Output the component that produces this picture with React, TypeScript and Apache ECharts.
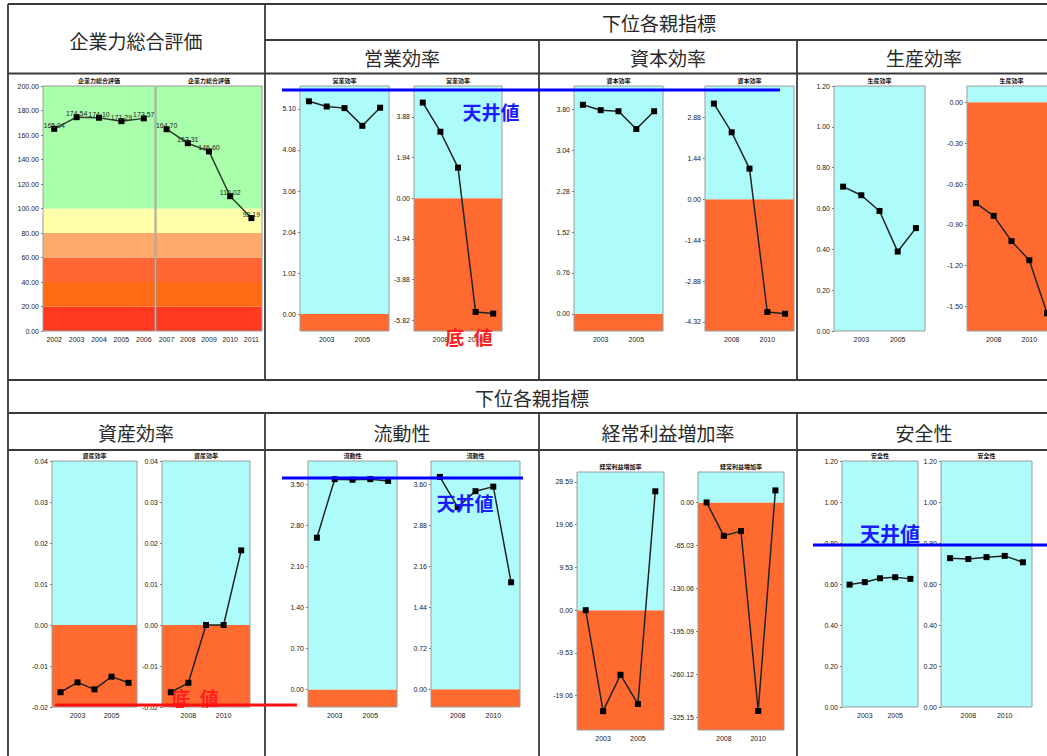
import React, { useEffect, useRef } from 'react';
import * as echarts from 'echarts';

// ---- categories ----
const yearsA = ['2002', '2003', '2004', '2005', '2006'];
const yearsB = ['2007', '2008', '2009', '2010', '2011'];

// ---- series values ----
const sogoA = [165.04, 174.54, 174.1, 171.29, 173.57];
const sogoB = [164.7, 153.31, 146.6, 110.02, 92.19];
const eigyoA = [5.29, 5.16, 5.12, 4.68, 5.13];
const eigyoB = [4.56, 3.17, 1.46, -5.42, -5.5];
const shihonA = [3.89, 3.79, 3.77, 3.44, 3.77];
const shihonB = [3.37, 2.36, 1.08, -3.97, -4.03];
const seisanA = [0.707, 0.665, 0.588, 0.389, 0.504];
const seisanB = [-0.741, -0.834, -1.02, -1.16, -1.55];
const shisanA = [-0.0164, -0.014, -0.0157, -0.0126, -0.0141];
const shisanB = [-0.0164, -0.0141, 0, 0, 0.0182];
const ryudoA = [2.59, 3.59, 3.58, 3.59, 3.56];
const ryudoB = [3.73, 3.2, 3.48, 3.56, 1.88];
const keijoA = [0, -22.5, -14.4, -20.9, 26.5];
const keijoB = [0, -50.5, -43.4, -315.8, 18.2];
const anzenA = [0.597, 0.609, 0.628, 0.633, 0.625];
const anzenB = [0.726, 0.722, 0.731, 0.737, 0.706];

// ---- tick labels ----
const eigyoTicksA = [0, 1.02, 2.04, 3.06, 4.08, 5.1];
const eigyoTicksB = [-5.82, -3.88, -1.94, 0, 1.94, 3.88];
const shihonTicksA = [0, 0.76, 1.52, 2.28, 3.04, 3.8];
const shihonTicksB = [-4.32, -2.88, -1.44, 0, 1.44, 2.88];
const seisanTicksA = [0, 0.2, 0.4, 0.6, 0.8, 1.0, 1.2];
const seisanTicksB = [-1.5, -1.2, -0.9, -0.6, -0.3, 0];
const shisanTicks = [-0.02, -0.01, 0, 0.01, 0.02, 0.03, 0.04];
const ryudoTicksA = [0, 0.7, 1.4, 2.1, 2.8, 3.5];
const ryudoTicksB = [0, 0.72, 1.44, 2.16, 2.88, 3.6];
const keijoTicksA = [-19.06, -9.53, 0, 9.53, 19.06, 28.59];
const keijoTicksB = [-325.15, -260.12, -195.09, -130.06, -65.03, 0];
const anzenTicks = [0, 0.2, 0.4, 0.6, 0.8, 1.0, 1.2];

// ---- header texts ----
const topHeaders = ['営業効率', '資本効率', '生産効率'];
const bottomHeaders = ['資産効率', '流動性', '経常利益増加率', '安全性'];

type Mini = {
  title: string; cats: string[]; data: number[]; min: number; max: number;
  ticks?: number[]; interval?: number; showY: boolean; allX: boolean; sogo?: boolean;
  x: number; y: number; w: number; h: number;
};

const minis: Mini[] = [
  { title: '企業力総合評価', cats: yearsA, data: sogoA, min: 0, max: 200, interval: 20, showY: true, allX: true, sogo: true, x: 43, y: 86, w: 112, h: 245 },
  { title: '企業力総合評価', cats: yearsB, data: sogoB, min: 0, max: 200, interval: 20, showY: false, allX: true, sogo: true, x: 156, y: 86, w: 106, h: 245 },
  { title: '営業効率', cats: yearsA, data: eigyoA, min: -0.42, max: 5.67, ticks: eigyoTicksA, showY: true, allX: false, x: 300, y: 86, w: 89, h: 245 },
  { title: '営業効率', cats: yearsB, data: eigyoB, min: -6.33, max: 5.35, ticks: eigyoTicksB, showY: true, allX: false, x: 414, y: 86, w: 88, h: 245 },
  { title: '資本効率', cats: yearsA, data: shihonA, min: -0.32, max: 4.24, ticks: shihonTicksA, showY: true, allX: false, x: 574, y: 86, w: 89, h: 245 },
  { title: '資本効率', cats: yearsB, data: shihonB, min: -4.64, max: 3.99, ticks: shihonTicksB, showY: true, allX: false, x: 705, y: 86, w: 89, h: 245 },
  { title: '生産効率', cats: yearsA, data: seisanA, min: 0, max: 1.2, ticks: seisanTicksA, showY: true, allX: false, x: 834, y: 86, w: 91, h: 245 },
  { title: '生産効率', cats: yearsB, data: seisanB, min: -1.68, max: 0.12, ticks: seisanTicksB, showY: true, allX: false, x: 967, y: 86, w: 89, h: 245 },
  { title: '資産効率', cats: yearsA, data: shisanA, min: -0.02, max: 0.04, ticks: shisanTicks, showY: true, allX: false, x: 52, y: 461, w: 85, h: 246 },
  { title: '資産効率', cats: yearsB, data: shisanB, min: -0.02, max: 0.04, ticks: shisanTicks, showY: true, allX: false, x: 162, y: 461, w: 88, h: 246 },
  { title: '流動性', cats: yearsA, data: ryudoA, min: -0.3, max: 3.9, ticks: ryudoTicksA, showY: true, allX: false, x: 308, y: 461, w: 89, h: 246 },
  { title: '流動性', cats: yearsB, data: ryudoB, min: -0.31, max: 4.01, ticks: ryudoTicksB, showY: true, allX: false, x: 431, y: 461, w: 89, h: 246 },
  { title: '経常利益増加率', cats: yearsA, data: keijoA, min: -26.7, max: 30.8, ticks: keijoTicksA, showY: true, allX: false, x: 577, y: 472, w: 87, h: 258 },
  { title: '経常利益増加率', cats: yearsB, data: keijoB, min: -344.6, max: 46.1, ticks: keijoTicksB, showY: true, allX: false, x: 698, y: 472, w: 86, h: 258 },
  { title: '安全性', cats: yearsA, data: anzenA, min: 0, max: 1.2, ticks: anzenTicks, showY: true, allX: false, x: 842, y: 461, w: 76, h: 246 },
  { title: '安全性', cats: yearsB, data: anzenB, min: 0, max: 1.2, ticks: anzenTicks, showY: true, allX: false, x: 941, y: 461, w: 91, h: 246 },
];

const CYAN = '#aefcfa';
const ORANGE = '#fe6a30';
const sogoBands: [number, number, string][] = [
  [0, 20, '#ff3a1e'], [20, 40, '#ff6a14'], [40, 60, '#ff6633'],
  [60, 80, '#ffaa6b'], [80, 100, '#ffffaa'], [100, 200, '#aaffaa'],
];

const CJK = '"Noto Sans CJK JP", sans-serif';
const LAT = '"Liberation Sans", Arial, sans-serif';

export default function App() {
  const ref = useRef<HTMLDivElement>(null);
  useEffect(() => {
    if (!ref.current) return;
    const chart = echarts.init(ref.current, undefined, { renderer: 'svg' });

    const grid = minis.map((m) => ({
      left: m.x, top: m.y, width: m.w, height: m.h, show: true,
      borderColor: '#9a9a9a', borderWidth: 1, backgroundColor: 'transparent',
      z: 3, outerBoundsMode: 'none', containLabel: false,
    }));
    const xAxis = minis.map((m, i) => ({
      type: 'category', gridIndex: i, data: m.cats, boundaryGap: true,
      axisLine: { show: false }, axisTick: { show: false },
      axisLabel: {
        fontSize: 7, color: '#222', margin: 5, fontFamily: LAT,
        interval: m.allX ? 0 : (idx: number) => idx % 2 === 1,
      },
    }));
    const yAxis = minis.map((m, i) => {
      const ax: any = {
        type: 'value', gridIndex: i, min: m.min, max: m.max,
        splitLine: { show: false }, axisLine: { show: false },
        axisTick: { show: m.showY, length: 2, lineStyle: { color: '#777' } },
        axisLabel: {
          show: m.showY, fontSize: 7, color: '#222', margin: 4, fontFamily: LAT,
          formatter: (v: number) => v.toFixed(2),
        },
      };
      if (m.interval) ax.interval = m.interval;
      if (m.ticks) {
        ax.axisLabel.customValues = m.ticks;
        ax.axisTick.customValues = m.ticks;
      }
      return ax;
    });
    const series = minis.map((m, i) => {
      const areas = m.sogo
        ? sogoBands.map(([a, b, c]) => [{ yAxis: a, itemStyle: { color: c } }, { yAxis: b }])
        : [
            [{ yAxis: m.min, itemStyle: { color: ORANGE } }, { yAxis: 0 }],
            [{ yAxis: 0, itemStyle: { color: CYAN } }, { yAxis: m.max }],
          ];
      return {
        type: 'line', xAxisIndex: i, yAxisIndex: i, data: m.data, z: 2,
        symbol: 'rect', symbolSize: 6,
        itemStyle: { color: '#000' },
        lineStyle: { color: m.sogo ? '#2d3b2d' : '#222', width: 1.5 },
        label: m.sogo
          ? { show: true, position: 'top', distance: -3, fontSize: 7, color: '#222', fontFamily: LAT, formatter: (p: any) => p.value.toFixed(2) }
          : { show: false },
        markArea: { silent: true, data: areas },
      };
    });

    const L = (x1: number, y1: number, x2: number, y2: number) => ({
      type: 'line', z: 50, shape: { x1, y1, x2, y2 }, style: { stroke: '#3a3a3a', lineWidth: 1.8 },
    });
    const T = (text: string, x: number, y: number, size: number, fill = '#2a2a2a', weight: any = 'normal') => ({
      type: 'text', z: 60, x, y,
      style: { text, fontSize: size, fontFamily: CJK, fontWeight: weight, fill, textAlign: 'center', textVerticalAlign: 'middle' },
    });
    const Bl = (x1: number, y: number, x2: number, color: string) => ({
      type: 'line', z: 80, shape: { x1, y1: y, x2, y2: y }, style: { stroke: color, lineWidth: 3.2 },
    });

    const graphic: any[] = [
      // table
      L(8, 4, 1060, 4), L(8, 4, 8, 760),
      L(265, 4, 265, 380), L(539, 40, 539, 380), L(797, 40, 797, 380),
      L(265, 40, 1060, 40), L(8, 73.5, 1060, 73.5), L(8, 380, 1060, 380),
      L(8, 413, 1060, 413), L(8, 450, 1060, 450),
      L(265, 413, 265, 760), L(539, 413, 539, 760), L(797, 413, 797, 760),
      // headers
      T('企業力総合評価', 136, 40, 19),
      T('下位各親指標', 659, 22, 19),
      T(topHeaders[0], 402, 57, 19), T(topHeaders[1], 668, 57, 19), T(topHeaders[2], 924, 57, 19),
      T('下位各親指標', 532, 397, 19),
      T(bottomHeaders[0], 136, 432, 19), T(bottomHeaders[1], 402, 432, 19),
      T(bottomHeaders[2], 668, 432, 19), T(bottomHeaders[3], 924, 432, 19),
      // mini titles
      ...minis.map((m) => T(m.title, m.x + m.w / 2, m.y - 5.5, 6, '#111', 'bold')),
      // annotations
      Bl(282, 90, 780, '#0000ff'),
      T('天井値', 491, 111, 19, '#1c1cff', 'bold'),
      T('底\u2002値', 469, 336, 19, '#ff2020', 'bold'),
      Bl(55, 705, 297, '#ff1010'),
      T('底\u2002値', 195, 697, 19, '#ff2020', 'bold'),
      Bl(282, 478, 523, '#0000ff'),
      T('天井値', 465, 502, 19, '#1c1cff', 'bold'),
      Bl(813, 545, 1060, '#0000ff'),
      T('天井値', 890, 533, 20, '#1c1cff', 'bold'),
    ];

    chart.setOption({
      animation: false,
      backgroundColor: '#fff',
      grid, xAxis, yAxis, series, graphic,
    });
    return () => chart.dispose();
  }, []);

  return (
    <div style={{ position: 'fixed', left: 0, top: 0, width: 1047, height: 756, overflow: 'hidden', background: '#fff' }}>
      <div ref={ref} style={{ width: 1100, height: 780 }} />
    </div>
  );
}
